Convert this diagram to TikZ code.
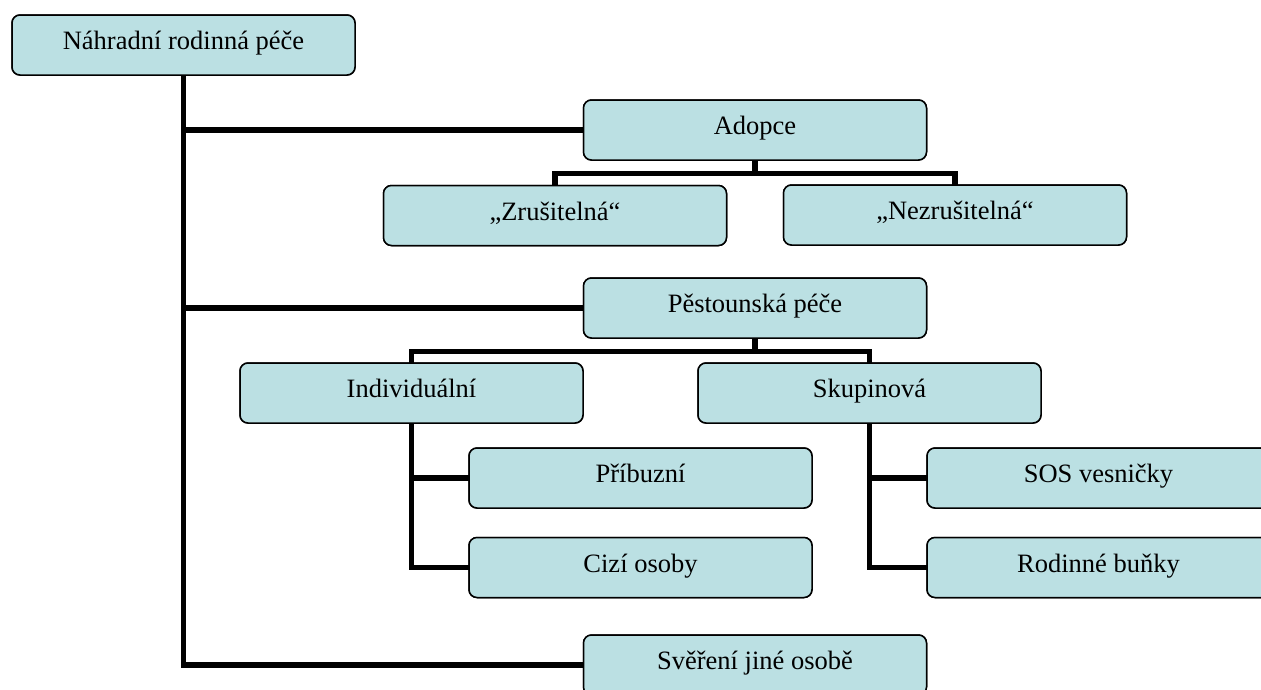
\documentclass[tikz,border=0pt]{standalone}
\usepackage{fontspec}
\setmainfont{Liberation Serif}
\definecolor{boxfill}{RGB}{187,224,227}
\tikzset{
  box/.style={draw=black, line width=1.5pt, fill=boxfill, rounded corners=8pt,
    minimum width=343pt, minimum height=60pt, inner sep=0pt,
    text height=15pt, text depth=6pt,
    font=\fontsize{26.5}{32}\selectfont},
  conn/.style={draw=black, line width=5.5pt, line cap=rect}
}
\begin{document}
\begin{tikzpicture}[x=1pt,y=1pt]
\useasboundingbox (0,0) rectangle (1261,-689);
\clip (0,0) rectangle (1261,-689);
\node[box] (root) at (183.5,-45) {Náhradní rodinná péče};
\node[box] (adopce) at (755,-130) {Adopce};
\node[box] (zrus) at (555,-215.5) {„Zrušitelná“};
\node[box] (nez) at (955,-215) {„Nezrušitelná“};
\node[box] (pest) at (755,-308) {Pěstounská péče};
\node[box] (ind) at (411.5,-393) {Individuální};
\node[box] (sku) at (869.5,-393) {Skupinová};
\node[box] (pri) at (640.5,-478) {Příbuzní};
\node[box] (cizi) at (640.5,-567.5) {Cizí osoby};
\node[box] (sos) at (1098.5,-478) {SOS vesničky};
\node[box] (rod) at (1098.5,-567.5) {Rodinné buňky};
\node[box] (sve) at (755,-665) {Svěření jiné osobě};
% trunk
\draw[conn] (root.south) |- (sve.west);
\draw[conn] (root.south |- adopce.west) -- (adopce.west);
\draw[conn] (root.south |- pest.west) -- (pest.west);
% adopce children
\draw[conn] (adopce.south) -- ++(0,-12.5) coordinate (ab);
\draw[conn] (zrus.north) |- (ab) -| (nez.north);
% pestounska children
\draw[conn] (pest.south) -- ++(0,-12.5) coordinate (pb);
\draw[conn] (ind.north) |- (pb) -| (sku.north);
% individualni children
\draw[conn] (ind.south) |- (cizi.west);
\draw[conn] (ind.south |- pri.west) -- (pri.west);
% skupinova children
\draw[conn] (sku.south) |- (rod.west);
\draw[conn] (sku.south |- sos.west) -- (sos.west);
% boxes drawn again above the connectors
\node[box] at (root) {Náhradní rodinná péče};
\node[box] at (adopce) {Adopce};
\node[box] at (zrus) {„Zrušitelná“};
\node[box] at (nez) {„Nezrušitelná“};
\node[box] at (pest) {Pěstounská péče};
\node[box] at (ind) {Individuální};
\node[box] at (sku) {Skupinová};
\node[box] at (pri) {Příbuzní};
\node[box] at (cizi) {Cizí osoby};
\node[box] at (sos) {SOS vesničky};
\node[box] at (rod) {Rodinné buňky};
\node[box] at (sve) {Svěření jiné osobě};
\end{tikzpicture}
\end{document}
